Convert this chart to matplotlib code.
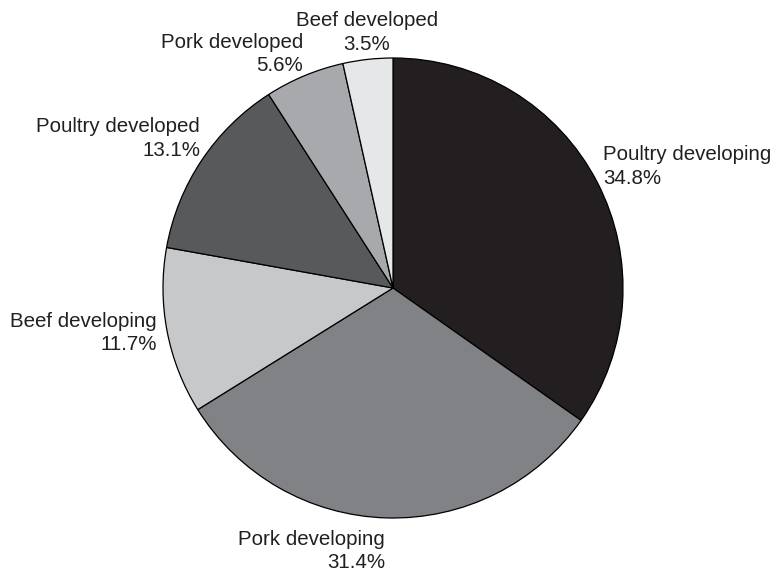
import matplotlib
matplotlib.use("Agg")
import matplotlib.pyplot as plt

# slices, clockwise from 12 o'clock
names = ["Poultry developing", "Pork developing", "Beef developing",
         "Poultry developed", "Pork developed", "Beef developed"]
shares = [34.8, 31.4, 11.7, 13.1, 5.6, 3.5]
colors = ["#231f20", "#808285", "#c7c8ca", "#58595b", "#a7a9ac", "#e6e7e8"]

# label anchors (pie radius = 1) and alignment
label_pos = [(0.913, 0.528), (-0.035, -1.143), (-1.026, -0.196),
             (-0.839, 0.650), (-0.391, 1.017), (-0.113, 1.111)]
label_ha = ["left", "right", "right", "right", "right", "center"]

plt.rcParams["font.family"] = ["Liberation Sans", "DejaVu Sans"]

fig = plt.figure(figsize=(7.79, 5.75), dpi=100)
ax = fig.add_axes([0, 0, 1, 1])

ax.pie(shares, colors=colors, startangle=90, counterclock=False,
       radius=1.0, wedgeprops=dict(edgecolor="black", linewidth=0.9))

for name, val, (x, y), ha in zip(names, shares, label_pos, label_ha):
    ax.text(x, y, f"{name}\n{val:.1f}%", ha=ha, va="center",
            multialignment=ha, fontsize=14.8, color="#231f20",
            linespacing=1.3)

ax.set_xlim(-393 / 230, (779 - 393) / 230)
ax.set_ylim(-287 / 230, 288 / 230)
ax.set_aspect("equal")
ax.axis("off")

fig.savefig("out.png", dpi=100, facecolor="white")
